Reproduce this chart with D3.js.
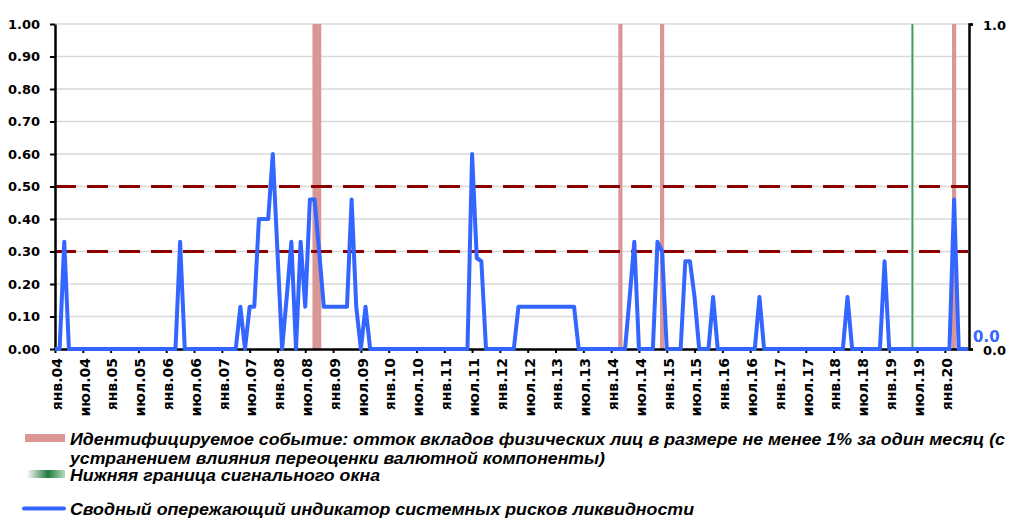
<!DOCTYPE html>
<html>
<head>
<meta charset="utf-8">
<script src="https://cdn.jsdelivr.net/npm/d3@7"></script>
<style>
  html, body { margin: 0; padding: 0; background: #fff; }
  svg { display: block; }
  .axis text { font-family: "DejaVu Sans", Verdana, sans-serif; font-weight: bold; fill: #000; }
  .legend text { font-family: "Liberation Sans", Arial, sans-serif; font-weight: bold; font-style: italic; fill: #000; }
</style>
</head>
<body>
<svg id="chart" width="1009" height="518"></svg>
<script>
(function () {
  "use strict";

  // monthly values, Jan 2004 .. Jun 2020 (one row per year)
  var indicator = [
    0, 0, 0.33, 0, 0, 0, 0, 0, 0, 0, 0, 0,
    0, 0, 0, 0, 0, 0, 0, 0, 0, 0, 0, 0,
    0, 0, 0, 0.33, 0, 0, 0, 0, 0, 0, 0, 0,
    0, 0, 0, 0, 0.13, 0, 0.13, 0.13, 0.40, 0.40, 0.40, 0.60,
    0.30, 0, 0.16, 0.33, 0, 0.33, 0.13, 0.46, 0.46, 0.30, 0.13, 0.13,
    0.13, 0.13, 0.13, 0.13, 0.46, 0.13, 0, 0.13, 0, 0, 0, 0,
    0, 0, 0, 0, 0, 0, 0, 0, 0, 0, 0, 0,
    0, 0, 0, 0, 0, 0, 0.60, 0.28, 0.27, 0, 0, 0,
    0, 0, 0, 0, 0.13, 0.13, 0.13, 0.13, 0.13, 0.13, 0.13, 0.13,
    0.13, 0.13, 0.13, 0.13, 0.13, 0, 0, 0, 0, 0, 0, 0,
    0, 0, 0, 0, 0.16, 0.33, 0, 0, 0, 0, 0.33, 0.30,
    0, 0, 0, 0, 0.27, 0.27, 0.16, 0, 0, 0, 0.16, 0,
    0, 0, 0, 0, 0, 0, 0, 0, 0.16, 0, 0, 0,
    0, 0, 0, 0, 0, 0, 0, 0, 0, 0, 0, 0,
    0, 0, 0, 0.16, 0, 0, 0, 0, 0, 0, 0, 0.27,
    0, 0, 0, 0, 0, 0, 0, 0, 0, 0, 0, 0,
    0, 0, 0.46, 0, 0, 0
  ];

  // months (index from Jan 2004) with an identified event, value 1 on the right axis
  var eventMonths = [56, 57, 122, 131, 194];
  var eventValue = 1;
  // lower bound of the signal window
  var windowMonths = [185];
  var thresholds = [0.3, 0.5];

  var leftTicks = [0, 0.1, 0.2, 0.3, 0.4, 0.5, 0.6, 0.7, 0.8, 0.9, 1.0];
  var rightTicks = [0, 1];
  var tickMonths = [0, 6, 12, 18, 24, 30, 36, 42, 48, 54, 60, 66, 72, 78, 84, 90, 96,
    102, 108, 114, 120, 126, 132, 138, 144, 150, 156, 162, 168, 174, 180, 186, 192];
  var tickLabels = ["янв.04", "июл.04", "янв.05", "июл.05", "янв.06", "июл.06", "янв.07", "июл.07",
    "янв.08", "июл.08", "янв.09", "июл.09", "янв.10", "июл.10", "янв.11", "июл.11",
    "янв.12", "июл.12", "янв.13", "июл.13", "янв.14", "июл.14", "янв.15", "июл.15",
    "янв.16", "июл.16", "янв.17", "июл.17", "янв.18", "июл.18", "янв.19", "июл.19", "янв.20"];

  var legendLines = [
    "Идентифицируемое событие: отток вкладов физических лиц в размере не менее 1% за один месяц (с",
    "устранением влияния переоценки валютной компоненты)",
    "Нижняя граница сигнального окна",
    "Сводный опережающий индикатор системных рисков ликвидности"
  ];

  var blue = "#3366ff";
  var pink = "#d99694";
  var darkRed = "#8b0000";

  var svg = d3.select("#chart");
  var left = 55, right = 968, top = 24, bottom = 349;

  var x = d3.scaleLinear().domain([0, indicator.length - 1]).range([left, right]);
  var y = d3.scaleLinear().domain([0, 1]).range([bottom, top]);
  var y2 = d3.scaleLinear().domain([0, 1]).range([bottom, top]);
  var step = x(1) - x(0);
  var barWidth = step * 0.9;

  var defs = svg.append("defs");
  var gBar = defs.append("linearGradient").attr("id", "greenBar");
  gBar.append("stop").attr("offset", "0%").attr("stop-color", "#d6ecdc");
  gBar.append("stop").attr("offset", "50%").attr("stop-color", "#3f9258");
  gBar.append("stop").attr("offset", "100%").attr("stop-color", "#d6ecdc");
  var gLeg = defs.append("linearGradient").attr("id", "greenLegend");
  gLeg.append("stop").attr("offset", "0%").attr("stop-color", "#ffffff");
  gLeg.append("stop").attr("offset", "55%").attr("stop-color", "#1f7a3c");
  gLeg.append("stop").attr("offset", "100%").attr("stop-color", "#b5dcbf");

  // gridlines
  svg.append("g").selectAll("line")
    .data(leftTicks.filter(function (d) { return d > 0; }))
    .enter().append("line")
    .attr("x1", left).attr("x2", right + 1)
    .attr("y1", function (d) { return y(d); })
    .attr("y2", function (d) { return y(d); })
    .attr("stroke", "#d9d9d9").attr("stroke-width", 1.5);

  // event columns on the secondary axis (neighbouring months join into one band)
  svg.append("g").selectAll("rect")
    .data(eventMonths)
    .enter().append("rect")
    .attr("x", function (d) { return x(d) - barWidth / 2; })
    .attr("width", function (d) {
      return eventMonths.indexOf(d + 1) >= 0 ? step + 0.5 : barWidth;
    })
    .attr("y", y2(eventValue))
    .attr("height", y2(0) - y2(eventValue))
    .attr("fill", pink);

  svg.append("g").selectAll("rect")
    .data(windowMonths)
    .enter().append("rect")
    .attr("x", function (d) { return x(d) - 1.6; })
    .attr("width", 3.2)
    .attr("y", y2(eventValue))
    .attr("height", y2(0) - y2(eventValue))
    .attr("fill", "url(#greenBar)");

  // threshold lines
  svg.append("g").selectAll("line")
    .data(thresholds)
    .enter().append("line")
    .attr("x1", left).attr("x2", right)
    .attr("y1", function (d) { return y(d); })
    .attr("y2", function (d) { return y(d); })
    .attr("stroke", darkRed).attr("stroke-width", 3)
    .attr("stroke-dasharray", "21,11");

  // axes
  var axisLeft = svg.append("g").attr("class", "axis")
    .attr("transform", "translate(" + left + ",0)")
    .call(d3.axisLeft(y).tickValues(leftTicks).tickFormat(d3.format(".2f"))
      .tickSize(5).tickSizeOuter(0).tickPadding(10));
  axisLeft.selectAll("text").attr("font-size", 13);

  var axisRight = svg.append("g").attr("class", "axis")
    .attr("transform", "translate(" + (right + 1) + ",0)")
    .call(d3.axisRight(y2).tickValues(rightTicks).tickFormat(d3.format(".1f"))
      .tickSize(4).tickSizeOuter(4).tickPadding(10));
  axisRight.selectAll("text").attr("font-size", 13).attr("dy", "0.45em");

  var axisBottom = svg.append("g").attr("class", "axis")
    .attr("transform", "translate(0," + bottom + ")")
    .call(d3.axisBottom(x).tickValues(tickMonths)
      .tickFormat(function (d, i) { return tickLabels[i]; })
      .tickSize(4).tickSizeOuter(0));
  axisBottom.selectAll("text")
    .attr("font-size", 14)
    .attr("text-anchor", "end")
    .attr("transform", "rotate(-90)")
    .attr("x", -9).attr("y", 0).attr("dy", "0.45em");

  svg.selectAll(".axis path.domain").attr("stroke", "#000").attr("stroke-width", 2.5);
  svg.selectAll(".axis .tick line").attr("stroke", "#000").attr("stroke-width", 2);

  // indicator line
  var line = d3.line()
    .x(function (d, i) { return x(i); })
    .y(function (d) { return y(d); });
  svg.append("path")
    .datum(indicator)
    .attr("d", line)
    .attr("fill", "none")
    .attr("stroke", blue)
    .attr("stroke-width", 4)
    .attr("stroke-linejoin", "round");

  // label of the last point
  var last = indicator.length - 1;
  svg.append("text")
    .attr("x", x(last) + 5)
    .attr("y", y(indicator[last]) - 7)
    .attr("font-family", "DejaVu Sans, Verdana, sans-serif")
    .attr("font-weight", "bold")
    .attr("font-size", 15)
    .attr("fill", blue)
    .text(d3.format(".1f")(indicator[last]));

  // legend
  var legend = svg.append("g").attr("class", "legend");
  legend.append("rect").attr("x", 25).attr("y", 434).attr("width", 40).attr("height", 8).attr("fill", pink);
  legend.append("rect").attr("x", 27).attr("y", 470).attr("width", 38).attr("height", 8).attr("fill", "url(#greenLegend)");
  legend.append("line").attr("x1", 24).attr("x2", 64).attr("y1", 508.5).attr("y2", 508.5)
    .attr("stroke", blue).attr("stroke-width", 4).attr("stroke-linecap", "round");

  var baselines = [445, 463.5, 480.5, 515];
  var widths = [935, 535, 310, 624];
  legend.selectAll("text.item")
    .data(legendLines)
    .enter().append("text")
    .attr("class", "item")
    .attr("x", 70)
    .attr("y", function (d, i) { return baselines[i]; })
    .attr("font-size", 16.5)
    .attr("textLength", function (d, i) { return widths[i]; })
    .attr("lengthAdjust", "spacingAndGlyphs")
    .text(function (d) { return d; });
}());
</script>
</body>
</html>
